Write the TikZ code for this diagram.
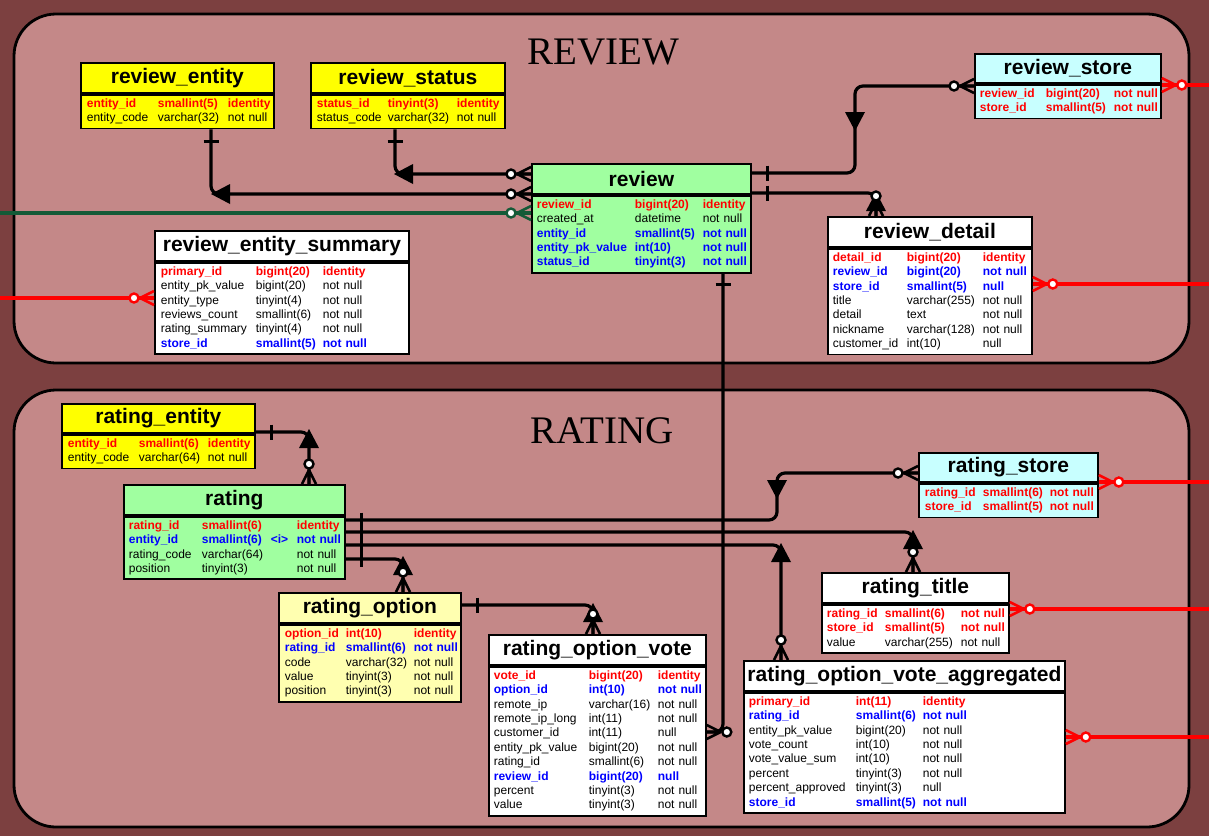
\documentclass[tikz,border=0pt]{standalone}
\usepackage{fontspec}
\setmainfont{Liberation Sans}
\newfontfamily\panelfont{Liberation Serif}
\definecolor{bgm}{RGB}{124,64,64}
\definecolor{panelc}{RGB}{196,136,136}
\definecolor{pkred}{RGB}{255,0,0}
\definecolor{fkblue}{RGB}{0,0,255}
\definecolor{tyellow}{RGB}{255,255,0}
\definecolor{tgreen}{RGB}{160,255,160}
\definecolor{tcyan}{RGB}{200,255,255}
\definecolor{tlyellow}{RGB}{255,255,176}
\definecolor{lgreen}{RGB}{20,90,55}
\newcommand\rowP[3]{\hspace*{\cwP}\makebox[\cwA][l]{\textcolor{pkred}{\bfseries #1}}\makebox[\cwB][l]{\textcolor{pkred}{\bfseries #2}}\mbox{\textcolor{pkred}{\bfseries #3}}\strut}
\newcommand\rowF[3]{\hspace*{\cwP}\makebox[\cwA][l]{\textcolor{fkblue}{\bfseries #1}}\makebox[\cwB][l]{\textcolor{fkblue}{\bfseries #2}}\mbox{\textcolor{fkblue}{\bfseries #3}}\strut}
\newcommand\rowN[3]{\hspace*{\cwP}\makebox[\cwA][l]{#1}\makebox[\cwB][l]{#2}\mbox{#3}\strut}
\tikzset{
  ttl/.style={draw, line width=1.8pt, anchor=north west, inner sep=0pt, minimum height=30pt, minimum width=#1, font=\fontsize{21}{24}\selectfont\bfseries},
  bdy/.style n args={4}{draw, line width=1.8pt, anchor=north west, inner xsep=0pt, inner ysep=2.5pt, align=left, text width=#1, execute at begin node={\def\cwP{#2}\def\cwA{#3}\def\cwB{#4}}, font=\fontsize{12}{14.4}\selectfont},
  panel/.style={draw=black, line width=2.8pt, fill=panelc, rounded corners=42pt},
  ptitle/.style={anchor=base, font=\panelfont\fontsize{39}{42}\selectfont},
  conn/.style={draw=black, line width=3.2pt, rounded corners=8pt},
  redl/.style={draw=pkred, line width=3.2pt},
  crowpic/.pic={\draw[line width=2.6pt] (14,0) -- (0,0) (14,0) -- (0,7) (14,0) -- (0,-7); \draw[line width=2.4pt, fill=white] (20,0) circle[radius=4.5];},
  tripic/.pic={\fill (0,0) -- (-19,-10) -- (-19,10) -- cycle;},
  barpic/.pic={\draw[line width=3pt] (0,-7.5) -- (0,7.5);}
}
\begin{document}
\begin{tikzpicture}[x=1pt,y=-1pt]
\useasboundingbox (0,0) rectangle (1209,836);
\fill[bgm] (0,0) rectangle (1209,836);
% panels
\path[panel] (14,14) rectangle (1189,363);
\path[panel] (14,390) rectangle (1189,827);
\node[ptitle] (tReview) at (603,64) {REVIEW};
\node[ptitle] (tRating) at (602,443) {RATING};

% ---------- REVIEW tables ----------
\node[ttl=193pt, fill=tyellow] (rent) at (80,62) {review\_entity};
\node[bdy={193pt}{6pt}{71pt}{70pt}, fill=tyellow] (rentB) at (rent.south west) {%
\rowP{entity\_id}{smallint(5)}{identity}\\
\rowN{entity\_code}{varchar(32)}{not null}};

\node[ttl=194pt, fill=tyellow] (rsta) at (310,62) {review\_status};
\node[bdy={194pt}{6pt}{71pt}{69pt}, fill=tyellow] (rstaB) at (rsta.south west) {%
\rowP{status\_id}{tinyint(3)}{identity}\\
\rowN{status\_code}{varchar(32)}{not null}};

\node[ttl=219pt, fill=tgreen] (rev) at (531,163) {review};
\node[bdy={219pt}{5pt}{98pt}{68pt}, fill=tgreen] (revB) at (rev.south west) {%
\rowP{review\_id}{bigint(20)}{identity}\\
\rowN{created\_at}{datetime}{not null}\\
\rowF{entity\_id}{smallint(5)}{not null}\\
\rowF{entity\_pk\_value}{int(10)}{not null}\\
\rowF{status\_id}{tinyint(3)}{not null}};

\node[ttl=186pt, fill=tcyan, minimum height=29pt] (rsto) at (974,53) {review\_store};
\node[bdy={186pt}{5pt}{66pt}{68pt}, fill=tcyan] (rstoB) at (rsto.south west) {%
\rowP{review\_id}{bigint(20)}{not null}\\
\rowP{store\_id}{smallint(5)}{not null}};

\node[ttl=204pt, fill=white] (rdet) at (827,216) {review\_detail};
\node[bdy={204pt}{5pt}{74pt}{76pt}, fill=white] (rdetB) at (rdet.south west) {%
\rowP{detail\_id}{bigint(20)}{identity}\\
\rowF{review\_id}{bigint(20)}{not null}\\
\rowF{store\_id}{smallint(5)}{null}\\
\rowN{title}{varchar(255)}{not null}\\
\rowN{detail}{text}{not null}\\
\rowN{nickname}{varchar(128)}{not null}\\
\rowN{customer\_id}{int(10)}{null}};

\node[ttl=254pt, fill=white] (rsum) at (154,230) {review\_entity\_summary};
\node[bdy={254pt}{6pt}{95pt}{67pt}, fill=white] (rsumB) at (rsum.south west) {%
\rowP{primary\_id}{bigint(20)}{identity}\\
\rowN{entity\_pk\_value}{bigint(20)}{not null}\\
\rowN{entity\_type}{tinyint(4)}{not null}\\
\rowN{reviews\_count}{smallint(6)}{not null}\\
\rowN{rating\_summary}{tinyint(4)}{not null}\\
\rowF{store\_id}{smallint(5)}{not null}};

% ---------- RATING tables ----------
\node[ttl=193pt, fill=tyellow, minimum height=29pt] (gent) at (61,403) {rating\_entity};
\node[bdy={193pt}{6pt}{71pt}{69pt}, fill=tyellow] (gentB) at (gent.south west) {%
\rowP{entity\_id}{smallint(6)}{identity}\\
\rowN{entity\_code}{varchar(64)}{not null}};

\node[ttl=221pt, fill=tgreen] (rat) at (123,484) {rating};
\node[bdy={221pt}{5pt}{73pt}{95pt}, fill=tgreen] (ratB) at (rat.south west) {%
\rowP{rating\_id}{smallint(6)}{identity}\\
\rowF{entity\_id}{\makebox[69pt][l]{smallint(6)}<i>}{not null}\\
\rowN{rating\_code}{varchar(64)}{not null}\\
\rowN{position}{tinyint(3)}{not null}};

\node[ttl=182pt, fill=tlyellow] (ropt) at (278,592) {rating\_option};
\node[bdy={182pt}{6pt}{61pt}{68pt}, fill=tlyellow] (roptB) at (ropt.south west) {%
\rowP{option\_id}{int(10)}{identity}\\
\rowF{rating\_id}{smallint(6)}{not null}\\
\rowN{code}{varchar(32)}{not null}\\
\rowN{value}{tinyint(3)}{not null}\\
\rowN{position}{tinyint(3)}{not null}};

\node[ttl=217pt, fill=white] (rov) at (488,634) {rating\_option\_vote};
\node[bdy={217pt}{5pt}{95pt}{69pt}, fill=white] (rovB) at (rov.south west) {%
\rowP{vote\_id}{bigint(20)}{identity}\\
\rowF{option\_id}{int(10)}{not null}\\
\rowN{remote\_ip}{varchar(16)}{not null}\\
\rowN{remote\_ip\_long}{int(11)}{not null}\\
\rowN{customer\_id}{int(11)}{null}\\
\rowN{entity\_pk\_value}{bigint(20)}{not null}\\
\rowN{rating\_id}{smallint(6)}{not null}\\
\rowF{review\_id}{bigint(20)}{null}\\
\rowN{percent}{tinyint(3)}{not null}\\
\rowN{value}{tinyint(3)}{not null}};

\node[ttl=179pt, fill=tcyan, minimum height=29pt] (gsto) at (918,452) {rating\_store};
\node[bdy={179pt}{6pt}{58pt}{67pt}, fill=tcyan] (gstoB) at (gsto.south west) {%
\rowP{rating\_id}{smallint(6)}{not null}\\
\rowP{store\_id}{smallint(5)}{not null}};

\node[ttl=187pt, fill=white] (gtit) at (821,572) {rating\_title};
\node[bdy={187pt}{5pt}{58pt}{76pt}, fill=white] (gtitB) at (gtit.south west) {%
\rowP{rating\_id}{smallint(6)}{not null}\\
\rowP{store\_id}{smallint(5)}{not null}\\
\rowN{value}{varchar(255)}{not null}};

\node[ttl=321pt, fill=white] (rova) at (743,660) {rating\_option\_vote\_aggregated};
\node[bdy={321pt}{5pt}{107pt}{67pt}, fill=white] (rovaB) at (rova.south west) {%
\rowP{primary\_id}{int(11)}{identity}\\
\rowF{rating\_id}{smallint(6)}{not null}\\
\rowN{entity\_pk\_value}{bigint(20)}{not null}\\
\rowN{vote\_count}{int(10)}{not null}\\
\rowN{vote\_value\_sum}{int(10)}{not null}\\
\rowN{percent}{tinyint(3)}{not null}\\
\rowN{percent\_approved}{tinyint(3)}{null}\\
\rowF{store\_id}{smallint(5)}{not null}};

% free ends
\coordinate (gfree) at (0,213);
\coordinate (e1) at (1209,85);
\coordinate (e2) at (1209,284);
\coordinate (e3) at (0,298);
\coordinate (e4) at (1209,482);
\coordinate (e5) at (1209,609);
\coordinate (e6) at (1209,737);

% ---------- connectors REVIEW ----------
\draw[conn] (rentB.south -| 211,0) -- (211,194) -- (rev.west |- 0,194);
\pic[rotate=90] at (211,141) {barpic};
\pic[rotate=180] at (211,194) {tripic};
\pic[rotate=180] at (rev.west |- 0,194) {crowpic};

\draw[conn] (rstaB.south -| 395,0) -- (395,174) -- (rev.west |- 0,174);
\pic[rotate=90] at (395,141) {barpic};
\pic[rotate=180] at (394,174) {tripic};
\pic[rotate=180] at (rev.west |- 0,174) {crowpic};

\draw[conn, draw=lgreen] (gfree) -- (revB.west |- gfree);
\pic[lgreen, rotate=180] at (revB.west |- gfree) {crowpic};

\draw[conn] (rev.east |- 0,173) -- (855,173) -- (855,86) -- (rstoB.west |- 0,86);
\pic at (767,173) {barpic};
\pic[rotate=-90] at (855,131) {tripic};
\pic[rotate=180] at (rstoB.west |- 0,86) {crowpic};

\draw[conn] (revB.east |- 0,193) -- (876,193) -- (rdet.north -| 876,0);
\pic at (767,193) {barpic};
\pic[rotate=90] at (876,192) {tripic};
\pic[rotate=90] at (rdet.north -| 876,0) {crowpic};

\draw[conn] (revB.south -| 723,0) -- (723,732) -- (rovB.east |- 0,732);
\pic[rotate=90] at (723,284) {barpic};
\pic at (rovB.east |- 0,732) {crowpic};

% red outgoing lines
\draw[redl] (rstoB.east |- e1) -- (e1);
\pic[pkred] at (rstoB.east |- e1) {crowpic};
\draw[redl] (rdetB.east |- e2) -- (e2);
\pic[pkred] at (rdetB.east |- e2) {crowpic};
\draw[redl] (e3) -- (rsumB.west |- e3);
\pic[pkred, rotate=180] at (rsumB.west |- e3) {crowpic};
\draw[redl] (gstoB.east |- e4) -- (e4);
\pic[pkred] at (gstoB.east |- e4) {crowpic};
\draw[redl] (gtitB.east |- e5) -- (e5);
\pic[pkred] at (gtitB.east |- e5) {crowpic};
\draw[redl] (rovaB.east |- e6) -- (e6);
\pic[pkred] at (rovaB.east |- e6) {crowpic};

% ---------- connectors RATING ----------
\draw[conn] (gent.east |- 0,432) -- (309,432) -- (rat.north -| 309,0);
\pic at (271,432) {barpic};
\pic[rotate=90] at (309,429) {tripic};
\pic[rotate=90] at (rat.north -| 309,0) {crowpic};

\draw[conn] (ratB.east |- 0,520) -- (777,520) -- (777,473) -- (gsto.west |- 0,473);
\pic at (361,520) {barpic};
\pic[rotate=-90] at (777,499) {tripic};
\pic[rotate=180] at (gsto.west |- 0,473) {crowpic};

\draw[conn] (ratB.east |- 0,532) -- (913,532) -- (gtit.north -| 913,0);
\pic at (361,532) {barpic};
\pic[rotate=90] at (913,530) {tripic};
\pic[rotate=90] at (gtit.north -| 913,0) {crowpic};

\draw[conn] (ratB.east |- 0,545) -- (781,545) -- (rova.north -| 781,0);
\pic at (361,545) {barpic};
\pic[rotate=90] at (781,543) {tripic};
\pic[rotate=90] at (rova.north -| 781,0) {crowpic};

\draw[conn] (ratB.east |- 0,559) -- (403,559) -- (ropt.north -| 403,0);
\pic at (361,559) {barpic};
\pic[rotate=90] at (403,556) {tripic};
\pic[rotate=90] at (ropt.north -| 403,0) {crowpic};

\draw[conn] (ropt.east |- 0,605) -- (593,605) -- (rov.north -| 593,0);
\pic at (477,605) {barpic};
\pic[rotate=90] at (593,603) {tripic};
\pic[rotate=90] at (rov.north -| 593,0) {crowpic};
\end{tikzpicture}
\end{document}
